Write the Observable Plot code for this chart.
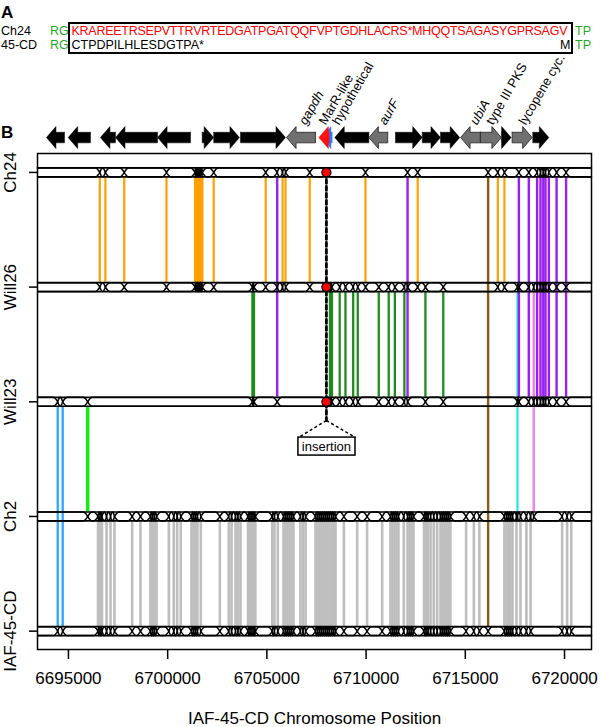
<!DOCTYPE html>
<html><head><meta charset="utf-8">
<script src="https://cdn.jsdelivr.net/npm/d3@7"></script>
<script src="https://cdn.jsdelivr.net/npm/@observablehq/plot@0.6"></script>
<style>
body{margin:0;background:white;font-family:"Liberation Sans",Arial,Helvetica,sans-serif;}
#wrap{position:relative;width:600px;height:727px;}
#overlay{position:absolute;left:0;top:0;}
</style></head>
<body>
<div id="wrap"><div id="chart"></div>
<svg id="overlay" width="600" height="145" font-family="Liberation Sans, Arial, sans-serif">
  <text x="1" y="18" font-size="17" font-weight="bold">A</text>
  <text x="1" y="35" font-size="12.5">Ch24</text>
  <text x="50" y="35" font-size="12.5" fill="#1fa81f">RG</text>
  <text x="71.5" y="35" font-size="12.5" fill="#ff0000" textLength="496" lengthAdjust="spacing">KRAREETRSEPVTTRVRTEDGATPGATQQFVPTGDHLACRS*MHQQTSAGASYGPRSAGV</text>
  <text x="575" y="35" font-size="12.5" fill="#1fa81f">TP</text>
  <text x="1" y="49" font-size="12.5">45-CD</text>
  <text x="50" y="49" font-size="12.5" fill="#1fa81f">RG</text>
  <text x="71.5" y="49" font-size="12.5" fill="#000">CTPDPILHLESDGTPA*</text>
  <text x="560" y="49" font-size="12.5" fill="#000">M</text>
  <text x="575" y="49" font-size="12.5" fill="#1fa81f">TP</text>
  <rect x="69" y="23" width="503" height="30" fill="none" stroke="#000" stroke-width="2"/>
  <text x="1" y="138" font-size="17" font-weight="bold">B</text>
</svg>
</div>
<script>
// ---------------- data ----------------
const trackNames = ["IAF-45-CD", "Ch2", "Will23", "Will26", "Ch24"]; // y = 1..5
const xTicks = [6695000, 6700000, 6705000, 6710000, 6715000, 6720000];
const xDomain = [6693440, 6721360];

// SNP connectors between strains (positions in bp)
const grayPos = [6696490, 6696590, 6696690, 6696920, 6697120, 6697320, 6698210, 6698630, 6699130, 6699230, 6699330, 6699440, 6700060, 6700310, 6700480, 6700660, 6701200, 6701300, 6701400, 6701500, 6701670, 6702630, 6703080, 6703220, 6703420, 6703540, 6703670, 6704050, 6704150, 6704250, 6704350, 6704420, 6705270, 6705380, 6705550, 6705840, 6705940, 6706040, 6706140, 6706240, 6706340, 6706690, 6706820, 6706950, 6707450, 6707550, 6707650, 6707750, 6707850, 6707950, 6708050, 6708150, 6708260, 6708360, 6708460, 6708880, 6709550, 6710050, 6710810, 6711230, 6711330, 6711430, 6711530, 6711630, 6711900, 6712090, 6712190, 6712290, 6712390, 6712920, 6713020, 6713120, 6713250, 6713410, 6713580, 6713750, 6713850, 6713950, 6714050, 6714150, 6714250, 6715040, 6715430, 6715710, 6716970, 6717080, 6717180, 6717280, 6717380, 6717580, 6717780, 6718080, 6718290, 6719880, 6720130, 6720340];
const orangePos = [6696580, 6696860, 6697810, 6699940, 6701380, 6701450, 6701530, 6701600, 6701680, 6701750, 6702320, 6704940, 6705790, 6705940, 6707160, 6709970, 6712600, 6716640, 6716970];
const greenPos = [6704270, 6704350, 6708180, 6708280, 6708670, 6708960, 6709350, 6709580, 6710640, 6711140, 6711450, 6711930, 6712990, 6713890];
const purplePos = [6705520, 6712090, 6717700, 6718200, 6718620, 6718790, 6718930, 6719040, 6719210, 6719600, 6720080];
const cyanPos = [6717630];
const violetPos = [6718450];
const bluePos = [6694460, 6694710];
const limePos = [6695970];
const brownPos = [6716150];

const insertionPos = 6708000;
const insertionTracks = ["Ch24", "Will26", "Will23"];

// genes (bp), strand, type
const geneStart = [6693890, 6694985, 6696610, 6697370, 6699490, 6701740, 6702320, 6703670, 6705990, 6707620, 6707750, 6708420, 6710140, 6711480, 6712830, 6713750, 6714760, 6715760, 6716820, 6717360, 6718400];
const geneEnd   = [6694800, 6696110, 6697370, 6699490, 6701150, 6702320, 6703620, 6705940, 6707450, 6708140, 6708290, 6710140, 6711090, 6712830, 6713750, 6714720, 6715760, 6716820, 6717310, 6718370, 6719210];
const geneStrand = [-1, -1, -1, -1, -1, 1, 1, 1, -1, -1, -1, -1, -1, 1, 1, 1, -1, 1, 1, 1, 1];
const geneType = ["k","k","k","k","k","k","k","k","g","r","b","k","g","k","k","k","g","g","k","g","k"];

const labelNames = ["gapdh", "MarR-like", "hypothetical", "aurF", "ubiA", "type III PKS", "lycopene cyc."];
const labelPos = [6706790, 6707790, 6708460, 6710810, 6715410, 6716220, 6717870];
const labelItalic = [true, false, false, true, true, false, false];

// ---------------- construction ----------------
const T = Object.fromEntries(trackNames.map((n, i) => [n, i + 1]));
const H = 0.039;     // half band height (y units)
const D = 230;       // pinch half-width (bp)

const groups = [
  {pos: grayPos,   from: "Ch2",    to: "IAF-45-CD", color: "#bebebe", w: 2.6, through: false},
  {pos: greenPos,  from: "Will26", to: "Will23",    color: "#1e8c1e", w: 2.3, through: false},
  {pos: orangePos, from: "Ch24",   to: "Will26",    color: "#ffa000", w: 2.2, through: false},
  {pos: cyanPos,   from: "Will26", to: "Ch2",       color: "#22e6e6", w: 2.2, through: true},
  {pos: violetPos, from: "Will26", to: "Ch2",       color: "#f07cf0", w: 2.4, through: true},
  {pos: purplePos, from: "Ch24",   to: "Will23",    color: "#9a1ff0", w: 2.4, through: true},
  {pos: bluePos,   from: "Will23", to: "IAF-45-CD", color: "#30a8ff", w: 2.4, through: false},
  {pos: limePos,   from: "Will23", to: "Ch2",       color: "#10ee10", w: 3.4, through: false},
  {pos: brownPos,  from: "Ch24",   to: "IAF-45-CD", color: "#8b5a14", w: 2.4, through: false}
];

const segs = [];
const hits = Object.fromEntries(trackNames.map(n => [n, []]));
for (const g of groups) {
  for (const p of g.pos) {
    segs.push({x: p, y1: T[g.from] - H, y2: T[g.to] + H, color: g.color, w: g.w});
    const a = T[g.from], b = T[g.to];
    for (let t = b; t <= a; t++) {
      if (g.through || t === a || t === b) hits[trackNames[t - 1]].push(p);
    }
  }
}
for (const t of insertionTracks) hits[t].push(insertionPos);

// band pinch lines
const bandPts = [];
const K = 6;
for (const name of trackNames) {
  const y0 = T[name];
  const s = Array.from(new Set(hits[name])).sort((a, b) => a - b);
  const pts = [{x: xDomain[0], f: 1}];
  for (let i = 0; i < s.length; i++) {
    const prev = i > 0 ? s[i - 1] : -Infinity;
    const next = i < s.length - 1 ? s[i + 1] : Infinity;
    const dl = Math.min(D, (s[i] - prev) / 2), dr = Math.min(D, (next - s[i]) / 2);
    for (let k = K; k >= 1; k--) pts.push({x: s[i] - dl * k / K, f: Math.sin(Math.PI / 2 * k / K)});
    pts.push({x: s[i], f: 0});
    for (let k = 1; k <= K; k++) pts.push({x: s[i] + dr * k / K, f: Math.sin(Math.PI / 2 * k / K)});
  }
  pts.push({x: xDomain[1], f: 1});
  for (const p of pts) {
    bandPts.push({x: p.x, y: y0 + H * p.f, z: name + "t"});
    bandPts.push({x: p.x, y: y0 - H * p.f, z: name + "b"});
  }
}
const bandRules = trackNames.flatMap(n => [T[n] + H, T[n] - H]);

// gene arrows
const geneY = 5.304, BH = 0.046, HH = 0.096, HEAD = 480;
const arrowPts = {k: [], g: [], r: [], b: []};
geneStart.forEach((st, i) => {
  const en = geneEnd[i], dir = geneStrand[i];
  const head = Math.min(HEAD, en - st);
  const tip = dir > 0 ? en : st, tail = dir > 0 ? st : en;
  const base = tip - dir * head;
  let poly;
  if (head >= en - st) {
    poly = [[tail, geneY + HH], [tip, geneY], [tail, geneY - HH]];
  } else {
    poly = [[tail, geneY + BH], [base, geneY + BH], [base, geneY + HH], [tip, geneY],
            [base, geneY - HH], [base, geneY - BH], [tail, geneY - BH]];
  }
  poly.push(poly[0]);
  for (const [x, y] of poly) arrowPts[geneType[i]].push({x, y, id: i});
});

const labels = labelNames.map((n, i) => ({name: n, x: labelPos[i], italic: labelItalic[i]}));

// insertion annotation
const insBox = {x1: 6706590, x2: 6709465, y1: 2.531, y2: 2.688};
const insSplit = 2.837;

const fontFamily = "Liberation Sans, Arial, Helvetica, sans-serif";

const chart = Plot.plot({
  width: 600, height: 727,
  marginTop: 153, marginBottom: 78, marginLeft: 37, marginRight: 9,
  style: {fontFamily, background: "white", color: "black"},
  x: {domain: xDomain, axis: null},
  y: {domain: [0.84, 5.165], axis: null},
  marks: [
    Plot.ruleX(segs, {x: "x", y1: "y1", y2: "y2", stroke: d => d.color, strokeWidth: "w"}),
    Plot.line([{x: insertionPos, y: 5}, {x: insertionPos, y: insSplit}], {x: "x", y: "y", stroke: "black", strokeWidth: 2.8, strokeDasharray: "4,3"}),
    Plot.link([{x1: insertionPos, y1: insSplit, x2: insBox.x1, y2: insBox.y2}, {x1: insertionPos, y1: insSplit, x2: insBox.x2, y2: insBox.y2}],
      {x1: "x1", y1: "y1", x2: "x2", y2: "y2", stroke: "black", strokeWidth: 1.5, strokeDasharray: "3,2.5"}),
    Plot.ruleY(bandRules, {stroke: "black", strokeWidth: 1.7}),
    Plot.line(bandPts, {x: "x", y: "y", z: "z", stroke: "black", strokeWidth: 1.5}),
    Plot.dot(insertionTracks.map(t => ({x: insertionPos, y: T[t]})), {x: "x", y: "y", r: 4.5, fill: "red", stroke: "black", strokeWidth: 1.3}),
    Plot.frame({stroke: "black", strokeWidth: 1.5}),
    Plot.line(arrowPts.k, {x: "x", y: "y", z: "id", fill: "black", stroke: "black", strokeWidth: 0.5}),
    Plot.line(arrowPts.g, {x: "x", y: "y", z: "id", fill: "#707070", stroke: "#222", strokeWidth: 0.8}),
    Plot.line(arrowPts.b, {x: "x", y: "y", z: "id", fill: "#2a7bff", stroke: "#2a7bff", strokeWidth: 0.5}),
    Plot.line(arrowPts.r, {x: "x", y: "y", z: "id", fill: "#ff1010", stroke: "#ff1010", strokeWidth: 0.5}),
    Plot.text(labels.filter(d => d.italic), {x: "x", y: () => geneY, text: "name", rotate: -60, textAnchor: "start", dy: -14, fontSize: 13, fontStyle: "italic"}),
    Plot.text(labels.filter(d => !d.italic), {x: "x", y: () => geneY, text: "name", rotate: -60, textAnchor: "start", dy: -14, fontSize: 13}),
    Plot.rect([insBox], {x1: "x1", x2: "x2", y1: "y1", y2: "y2", fill: "white", stroke: "black", strokeWidth: 1.5}),
    Plot.text(["insertion"], {x: () => insertionPos, y: () => (insBox.y1 + insBox.y2) / 2, fontSize: 13}),
    Plot.axisX({ticks: xTicks, tickFormat: d3.format("d"), tickSize: 10, tickPadding: 12, fontSize: 17, strokeWidth: 1.5, label: null}),
    Plot.axisY({ticks: [1, 2, 3, 4, 5], tickFormat: v => trackNames[v - 1], tickRotate: -90, tickSize: 8, tickPadding: 14, fontSize: 17, strokeWidth: 1.5, label: null}),
    Plot.text(["IAF-45-CD Chromosome Position"], {frameAnchor: "bottom", dy: 74, lineAnchor: "bottom", fontSize: 17})
  ]
});
document.getElementById("chart").appendChild(chart);
</script>
</body></html>
